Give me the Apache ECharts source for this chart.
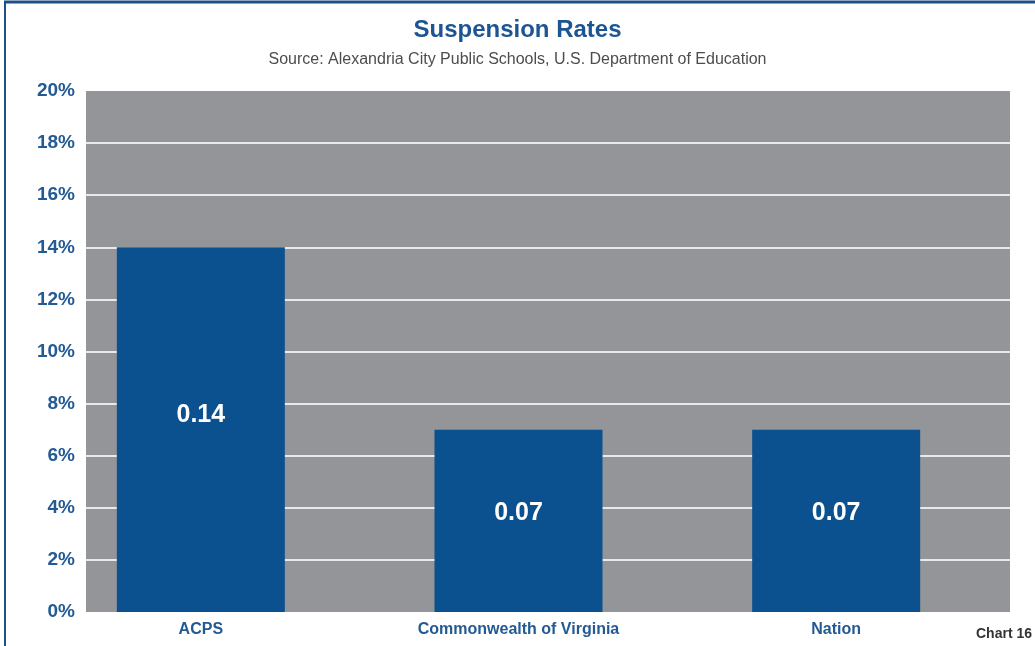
<!DOCTYPE html>
<html>
<head>
<meta charset="utf-8">
<title>Suspension Rates</title>
<script src="https://cdn.jsdelivr.net/npm/echarts@6/dist/echarts.min.js"></script>
<style>
  html, body { margin: 0; padding: 0; background: #ffffff; }
  #chart { width: 1035px; height: 646px; }
</style>
</head>
<body>
<div id="chart"></div>
<script>
// Suspension rates by jurisdiction
const categories = ['ACPS', 'Commonwealth of Virginia', 'Nation'];
const rates = [0.14, 0.07, 0.07];
const yTickLabels = ['0%', '2%', '4%', '6%', '8%', '10%', '12%', '14%', '16%', '18%', '20%'];

const FONT = '"Liberation Sans", Arial, Helvetica, sans-serif';
const BLUE_TEXT = '#235a94';
const BAR_BLUE = '#0b518f';
const PANEL_GRAY = '#939598';

const chart = echarts.init(document.getElementById('chart'), null, { renderer: 'canvas' });

chart.setOption({
  backgroundColor: '#ffffff',
  animation: false,
  title: [
    {
      text: 'Suspension Rates',
      left: 'center',
      top: 13,
      textStyle: { fontFamily: FONT, fontSize: 24, fontWeight: 'bold', color: '#1c5592' }
    },
    {
      text: 'Source: Alexandria City Public Schools, U.S. Department of Education',
      left: 'center',
      top: 47,
      textStyle: { fontFamily: FONT, fontSize: 16, fontWeight: 'normal', color: '#4d4d4d' }
    }
  ],
  grid: [
    // gray panel with the percentage scale
    { left: 86, right: 25, top: 91, bottom: 34, show: true, backgroundColor: PANEL_GRAY, borderWidth: 0 },
    // bar layout
    { left: 42, right: 40, top: 91, bottom: 34 }
  ],
  xAxis: [
    { type: 'value', gridIndex: 0, show: false, min: 0, max: 1 },
    {
      type: 'category',
      gridIndex: 1,
      data: categories,
      axisLine: { show: false },
      axisTick: { show: false },
      axisLabel: {
        margin: 10,
        fontFamily: FONT,
        fontSize: 16,
        fontWeight: 'bold',
        color: BLUE_TEXT
      }
    }
  ],
  yAxis: [
    {
      type: 'value',
      gridIndex: 0,
      min: 0,
      max: 0.2,
      interval: 0.02,
      axisLine: { show: false },
      axisTick: { show: false },
      axisLabel: {
        margin: 11,
        fontFamily: FONT,
        fontSize: 19,
        fontWeight: 'bold',
        color: BLUE_TEXT,
        formatter: function (v) {
          return yTickLabels[Math.round(v / 0.02)];
        }
      },
      splitLine: {
        show: true,
        showMinLine: false,
        showMaxLine: false,
        lineStyle: { color: '#e9e9ea', width: 2 }
      }
    },
    { type: 'value', gridIndex: 1, min: 0, max: 0.2, show: false }
  ],
  series: [
    {
      type: 'bar',
      xAxisIndex: 1,
      yAxisIndex: 1,
      data: rates,
      barWidth: 168,
      itemStyle: { color: BAR_BLUE },
      label: {
        show: true,
        position: ['50%', '46%'],
        align: 'center',
        verticalAlign: 'middle',
        fontFamily: FONT,
        fontSize: 25,
        fontWeight: 'bold',
        color: '#ffffff',
        formatter: function (p) { return p.value.toFixed(2); }
      }
    }
  ],
  graphic: [
    // frame along the top and left edges
    {
      type: 'line',
      shape: { x1: 4, y1: 2, x2: 1035, y2: 2 },
      style: { stroke: '#1f4f86', lineWidth: 3 }
    },
    {
      type: 'line',
      shape: { x1: 5, y1: 1, x2: 5, y2: 646 },
      style: { stroke: '#1f4f86', lineWidth: 2 }
    },
    {
      type: 'text',
      right: 3,
      top: 627,
      style: {
        text: 'Chart 16',
        fontFamily: FONT,
        fontSize: 14,
        fontWeight: 'bold',
        fill: '#333333'
      }
    }
  ]
});
</script>
</body>
</html>
